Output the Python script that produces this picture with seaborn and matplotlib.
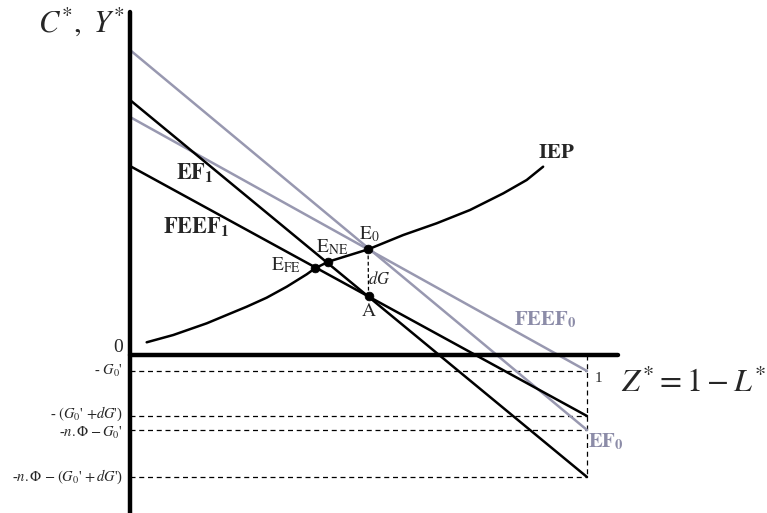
import numpy as np
import pandas as pd
import matplotlib
matplotlib.use("Agg")
import matplotlib.pyplot as plt
import seaborn as sns

# ---------------- data (Z* on x, C*/Y* on y) ----------------
levels = {"G0": -0.16, "G0dG": -0.61, "nPhiG0": -0.75, "nPhiG0dG": -1.22}
level_labels = [r"- $G_0$'", r"- $(G_0$' $+ dG$')", r"-$n.\Phi - G_0$'",
                r"-$n.\Phi\, -(G_0$' $+\, dG$')"]

line_names = ["EF0", "FEEF0", "EF1", "FEEF1"]
line_y0 = [3.05, 2.38, 2.55, 1.89]     # value at Z* = 0
line_y1 = [-0.75, -0.16, -1.22, -0.61]  # value at Z* = 1
line_colors = ["#9898b0", "#9898b0", "black", "black"]

iep_z = [0.0365, 0.0947, 0.168, 0.2116, 0.2554, 0.299, 0.343, 0.3867, 0.405, 0.434,
         0.5214, 0.598, 0.671, 0.744, 0.817, 0.868, 0.904]
iep_y = [0.127, 0.20, 0.317, 0.40, 0.483, 0.573, 0.683, 0.807, 0.867, 0.933,
         1.057, 1.20, 1.317, 1.45, 1.617, 1.75, 1.883]

pt_names = ["E0", "ENE", "EFE", "A"]
pt_z = [0.521, 0.434, 0.405, 0.522]
pt_y = [1.057, 0.933, 0.867, 0.59]

# ---------------- style ----------------
sns.set_theme(style="white")
plt.rcParams["font.family"] = ["Liberation Serif", "DejaVu Serif"]
plt.rcParams["mathtext.fontset"] = "stix"

W, H = 767, 513
fig = plt.figure(figsize=(W / 100, H / 100), dpi=100)
ax = fig.add_axes([0, 0, 1, 1])
ax.set_xlim(-130 / 457, 637 / 457)
ax.set_ylim(-1.58, 3.55)
ax.axis("off")

def ftext(px, py, s, **kw):
    fig.text(px / W, 1 - py / H, s, **kw)

# dashed guides
for lv in levels.values():
    sns.lineplot(x=[0, 1], y=[lv, lv], ax=ax, color="black", lw=0.9,
                 linestyle=(0, (4, 3)), estimator=None, sort=False)
sns.lineplot(x=[1, 1], y=[0, min(levels.values())], ax=ax, color="black", lw=0.9,
             linestyle=(0, (4, 3)), estimator=None, sort=False)
sns.lineplot(x=[pt_z[0], pt_z[3]], y=[pt_y[0], pt_y[3]], ax=ax, color="black", lw=0.9,
             linestyle=(0, (3, 2)), estimator=None, sort=False)

# EF / FEEF lines
for n, a, b, c in zip(line_names, line_y0, line_y1, line_colors):
    sns.lineplot(x=[0, 1], y=[a, b], ax=ax, color=c, lw=1.8, estimator=None, sort=False)

# IEP curve
sns.lineplot(x=iep_z, y=iep_y, ax=ax, color="black", lw=1.8, estimator=None, sort=False)

# axes
sns.lineplot(x=[0, 0], y=[-1.58, 3.43], ax=ax, color="black", lw=3.2, estimator=None, sort=False)
sns.lineplot(x=[0, 1.068], y=[0, 0], ax=ax, color="black", lw=3.2, estimator=None, sort=False)

# points
sns.scatterplot(x=pt_z, y=pt_y, ax=ax, color="black", s=40, zorder=5, edgecolor="black")

# level labels (small nudges keep the two close labels apart)
nudges = [0.0, 0.025, -0.025, 0.0]
for lv, lab, nd in zip(levels.values(), level_labels, nudges):
    ax.text(-0.015, lv + nd, lab, ha="right", va="center", fontsize=10.5)

# texts
ftext(38, 32, r"$C^{*},\ Y^{*}$", fontsize=22, ha="left", va="baseline")
ftext(123, 352, "0", fontsize=14, ha="right", va="baseline")
ftext(598, 378, "1", fontsize=11, ha="center", va="center")
ftext(766, 384, r"$Z^{*} = 1 - L^{*}$", fontsize=23, ha="right", va="center")

ftext(195, 172, r"$\mathbf{EF}_\mathbf{1}$", fontsize=16, ha="center", va="center")
ftext(196, 226, r"$\mathbf{FEEF}_\mathbf{1}$", fontsize=16, ha="center", va="center")
ftext(556, 153, r"$\mathbf{IEP}$", fontsize=15, ha="center", va="center")
ftext(545, 320, r"$\mathbf{FEEF}_\mathbf{0}$", fontsize=15, ha="center", va="center", color="#8c8ca8")
ftext(606, 442, r"$\mathbf{EF}_\mathbf{0}$", fontsize=15, ha="center", va="center", color="#8c8ca8")

ftext(369, 234, r"$\mathrm{E}_0$", fontsize=14, ha="center", va="center")
ftext(332, 247, r"$\mathrm{E}_{\mathrm{NE}}$", fontsize=14, ha="center", va="center")
ftext(286, 265, r"$\mathrm{E}_{\mathrm{FE}}$", fontsize=14, ha="center", va="center")
ftext(379, 280, r"$dG$", fontsize=12, ha="center", va="center")
ftext(369, 312, r"$\mathrm{A}$", fontsize=14, ha="center", va="center")

fig.savefig("out.png", dpi=100)
